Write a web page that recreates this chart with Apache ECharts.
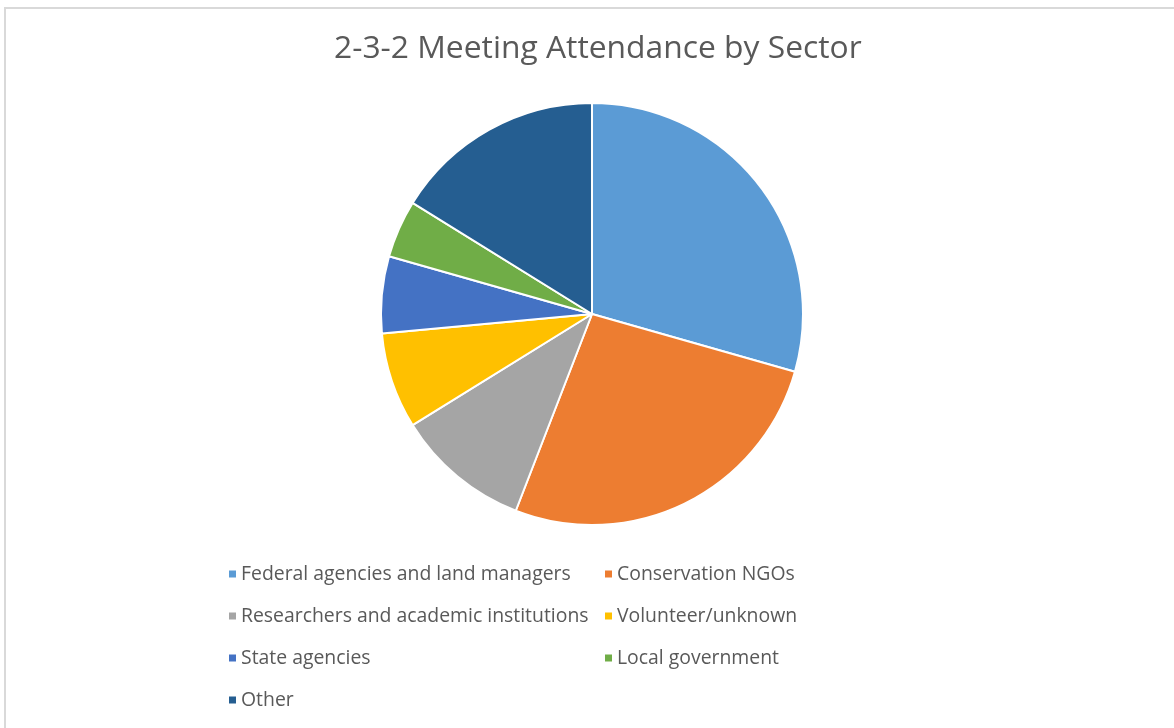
<!DOCTYPE html>
<html>
<head>
<meta charset="utf-8">
<script src="https://cdn.jsdelivr.net/npm/echarts@6/dist/echarts.min.js"></script>
<style>html,body{margin:0;padding:0;background:#fff;}#c{width:1174px;height:728px;}</style>
</head>
<body>
<div id="c"></div>
<script>
const titleText = '2-3-2 Meeting Attendance by Sector';
const categories = ['Federal agencies and land managers','Conservation NGOs','Researchers and academic institutions','Volunteer/unknown','State agencies','Local government','Other'];
const values = [20, 18, 7, 5, 4, 3, 11];
const colors = ['#5B9BD5','#ED7D31','#A5A5A5','#FFC000','#4472C4','#70AD47','#255E91'];
const legendCol1 = [categories[0], categories[2], categories[4], categories[6]];
const legendCol2 = [categories[1], categories[3], categories[5]];

const chart = echarts.init(document.getElementById('c'), null, {renderer:'canvas'});
const legendText = {color:'#595959', fontSize:19.4, fontFamily:'Open Sans', lineHeight:20};
chart.setOption({
  animation:false,
  backgroundColor:'#fff',
  color: colors,
  graphic:[{type:'rect', shape:{x:5, y:8, width:1200, height:800}, style:{fill:'none', stroke:'#d9d9d9', lineWidth:2}, silent:true}],
  title:{text:titleText, left:329, top:28, textStyle:{color:'#595959', fontSize:31.8, fontWeight:'normal', fontFamily:'Open Sans'}},
  legend:[
    {orient:'vertical', left:224, top:559, itemWidth:7, itemHeight:7, itemGap:22, icon:'rect', data:legendCol1, textStyle:legendText, itemStyle:{borderWidth:0}},
    {orient:'vertical', left:600, top:559, itemWidth:7, itemHeight:7, itemGap:22, icon:'rect', data:legendCol2, textStyle:legendText, itemStyle:{borderWidth:0}}
  ],
  series:[{
    type:'pie',
    center:[592,314],
    radius:[0,211],
    startAngle:90,
    clockwise:true,
    label:{show:false},
    labelLine:{show:false},
    itemStyle:{borderColor:'#fff', borderWidth:2},
    emphasis:{disabled:true},
    data: categories.map((n,i)=>({name:n, value:values[i]}))
  }]
});
</script>
</body>
</html>
